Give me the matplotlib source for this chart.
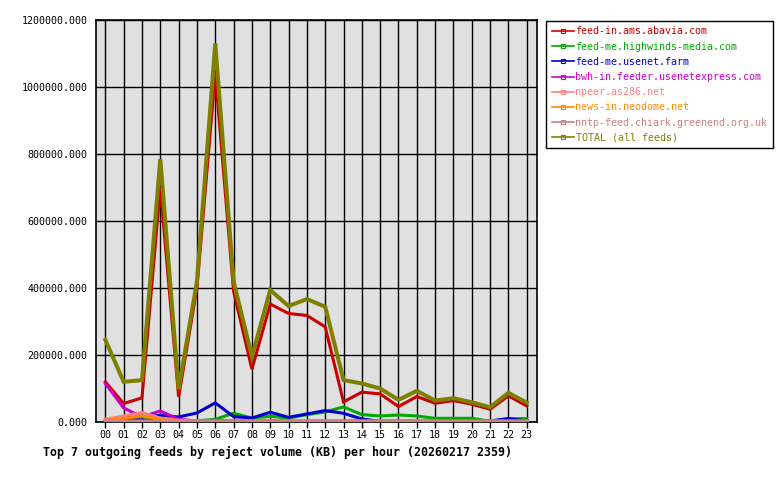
import matplotlib
matplotlib.use("Agg")
import matplotlib.pyplot as plt
from matplotlib.lines import Line2D
from matplotlib.ticker import FormatStrFormatter

hours = list(range(24))
hour_labels = [f"{h:02d}" for h in hours]

feed_names = [
    "feed-in.ams.abavia.com",
    "feed-me.highwinds-media.com",
    "feed-me.usenet.farm",
    "bwh-in.feeder.usenetexpress.com",
    "npeer.as286.net",
    "news-in.neodome.net",
    "nntp-feed.chiark.greenend.org.uk",
    "TOTAL (all feeds)",
]
feed_colors = ["#cc0000", "#00aa00", "#0000cc", "#cc00cc",
               "#ff8080", "#ff8800", "#cc8080", "#808000"]

# reject volume (KB) per hour
abavia = [120000, 55000, 72000, 700000, 75000, 400000, 1040000, 390000, 158000, 352000,
          324000, 318000, 284000, 60000, 89000, 84000, 46000, 76000, 56000, 64000,
          53000, 38000, 78000, 48000]
highwinds = [2000, 5000, 6000, 10000, 5000, 3000, 8000, 26000, 12000, 17000,
             12000, 22000, 30000, 45000, 22000, 18000, 21000, 18000, 11000, 11000,
             11000, 2000, 10000, 10000]
usenet_farm = [2000, 12000, 15000, 20000, 15000, 27000, 57000, 16000, 12000, 29000,
               14000, 24000, 34000, 26000, 9000, 2000, 2000, 2000, 2000, 2000,
               2000, 3000, 10000, 3000]
usenetexpress = [115000, 42000, 15000, 33000, 8000, 3000, 5000, 3000, 3000, 4000,
                 3000, 3000, 3000, 3000, 3000, 3000, 3000, 3000, 3000, 3000,
                 3000, 3000, 3000, 3000]
as286 = [8000, 18000, 28000, 12000, 5000, 3000, 3000, 3000, 3000, 3000,
         3000, 3000, 3000, 3000, 3000, 3000, 3000, 3000, 3000, 3000,
         3000, 3000, 3000, 3000]
neodome = [5000, 10000, 18000, 8000, 3000, 2000, 2000, 2000, 2000, 2000,
           2000, 2000, 2000, 2000, 2000, 2000, 2000, 2000, 2000, 2000,
           2000, 2000, 2000, 2000]
chiark = [3000] * 24
total = [245000, 120000, 125000, 785000, 98000, 420000, 1130000, 420000, 195000, 394000,
         346000, 367000, 344000, 125000, 115000, 100000, 66000, 93000, 64000, 71000,
         59000, 44000, 87000, 58000]

series = [abavia, highwinds, usenet_farm, usenetexpress, as286, neodome, chiark, total]
widths = [2.2, 2.2, 2.2, 2.2, 2.2, 2.2, 2.2, 2.9]

mono = "DejaVu Sans Mono"

fig = plt.figure(figsize=(7.8, 4.8), dpi=100)
ax = fig.add_axes([96 / 780, 58 / 480, 441 / 780, 402 / 480])
ax.set_facecolor("#e0e0e0")

for vals, col, lw in zip(series, feed_colors, widths):
    ax.plot(hours, vals, color=col, linewidth=lw, solid_joinstyle="miter", zorder=3)

ax.set_xlim(-0.51, 23.56)
ax.set_ylim(0, 1200000)
ax.set_xticks(hours)
ax.set_xticklabels(hour_labels, fontfamily=mono, fontsize=7.2)
ax.set_yticks(range(0, 1200001, 200000))
ax.yaxis.set_major_formatter(FormatStrFormatter("%.3f"))
for lab in ax.get_yticklabels():
    lab.set_fontfamily(mono)
    lab.set_fontsize(7.2)
ax.tick_params(axis="x", length=4, width=1, pad=2, colors="black")
ax.tick_params(axis="y", length=0, pad=6)
ax.grid(True, color="black", linewidth=1.0, zorder=1)
ax.set_axisbelow(True)
for sp in ax.spines.values():
    sp.set_linewidth(1.2)

handles = [Line2D([0], [0], color=c, linewidth=1.2, marker="s", markersize=2.5,
                  markerfacecolor="none", markeredgewidth=0.8) for c in feed_colors]
leg = fig.legend(handles, feed_names, loc="upper left",
                 bbox_to_anchor=(546 / 780, 1 - 21 / 480),
                 prop={"family": mono, "size": 7.2}, labelcolor=feed_colors,
                 handlelength=2.2, handletextpad=0.2, labelspacing=0.52,
                 borderpad=0.55, borderaxespad=0, fancybox=False, framealpha=1,
                 edgecolor="black")
leg.get_frame().set_linewidth(1.0)

fig.text(43 / 780, 1 - 452 / 480,
         "Top 7 outgoing feeds by reject volume (KB) per hour (20260217 2359)",
         fontfamily=mono, fontweight="bold", fontsize=8.35, va="center", ha="left")

fig.savefig("out.png", dpi=100)
